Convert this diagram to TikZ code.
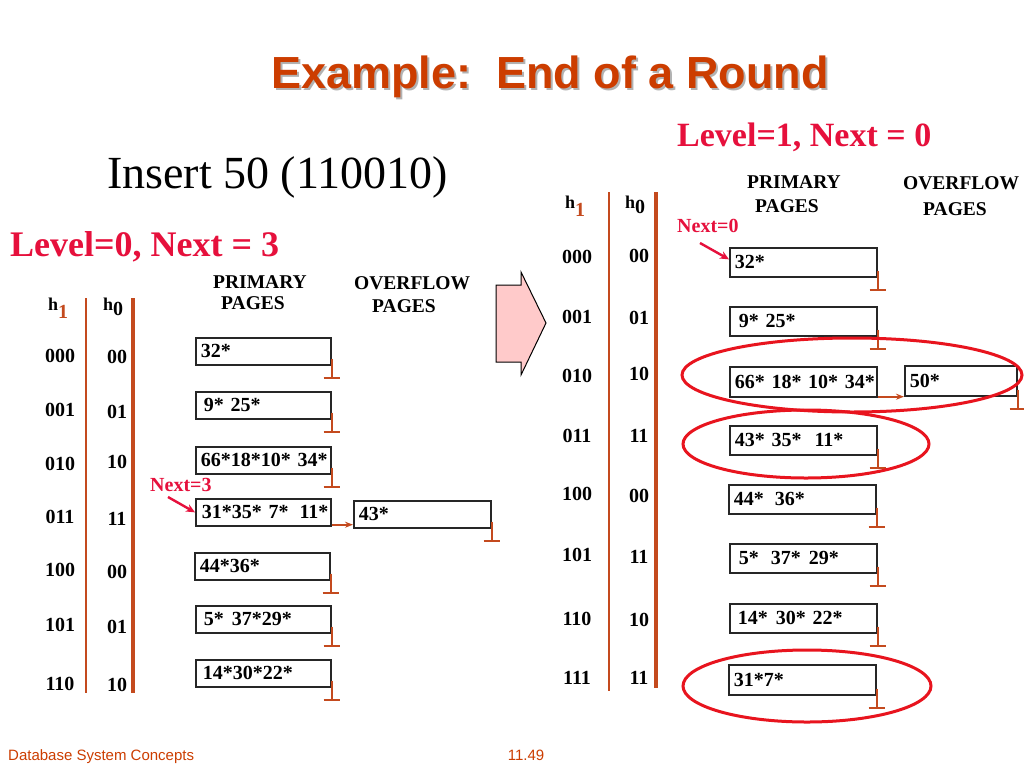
\documentclass[tikz,border=0pt]{standalone}
\usepackage{fontspec}
\setmainfont{Liberation Serif}
\newfontfamily\arialf{Liberation Sans}
\usetikzlibrary{arrows.meta}
\definecolor{titlec}{HTML}{CC3D00}
\definecolor{redc}{HTML}{E6103C}
\definecolor{linec}{HTML}{C44A1E}
\definecolor{ovalc}{HTML}{E8141E}
\definecolor{pinkc}{HTML}{FFCACA}
\newcommand\myfs[1]{\fontsize{#1}{#1}\selectfont}
\begin{document}
\begin{tikzpicture}[x=1pt,y=-1pt,
  box/.style={draw=black!85, line width=1.7pt, rectangle, anchor=north west,
    inner xsep=5pt, inner ysep=0pt, align=left, font=\myfs{20}\bfseries},
  lpg/.style={box, text width=125pt, minimum height=27pt},
  lov/.style={box, text width=127pt, minimum height=27pt},
  rpg/.style={box, text width=137pt, minimum height=29pt},
  rov/.style={box, text width=102pt, minimum height=30pt},
  lbl/.style={anchor=base, inner sep=0pt, font=\myfs{20}\bfseries},
  hdr/.style={anchor=base west, inner sep=0pt, font=\myfs{19.5}\bfseries},
  hlab/.style={anchor=base west, inner sep=0pt, font=\myfs{18}\bfseries},
  nextlab/.style={anchor=base west, inner sep=0pt, font=\myfs{20}\bfseries, text=redc},
  nextarr/.style={draw=redc, line width=2.4pt, -{Stealth[length=9pt,width=8pt]}},
  ovarr/.style={draw=linec, line width=1.6pt, -{Stealth[length=8pt,width=6pt]}},
  nullln/.style={draw=linec, line width=1.8pt},
  hline/.style={draw=linec, line width=1.8pt},
  hlinethick/.style={draw=linec, line width=3.2pt},
  oval/.style={draw=ovalc, line width=3pt}]
\newcommand\nullp[1]{\draw[nullln] ([yshift=7pt]#1.south east) -- ++(0,19) ++(-8,0) -- ++(16,0);}
\useasboundingbox (0,0) rectangle (1024,768);
\fill[white] (0,0) rectangle (1024,768);

% title
\node[anchor=base, inner sep=0pt, font=\arialf\bfseries\myfs{45}, text=black!30] (titlesh) at (552,90) {Example:\ \ End of a Round};
\node[anchor=base, inner sep=0pt, font=\arialf\bfseries\myfs{45}, text=titlec] (title) at (550,88) {Example:\ \ End of a Round};

\node[anchor=base west, inner sep=0pt, font=\myfs{46}] (ins) at (107,188) {Insert 50 (110010)};
\node[anchor=base west, inner sep=0pt, font=\myfs{36}\bfseries, text=redc] (lv0) at (10,256) {Level=0, Next = 3};
\node[anchor=base west, inner sep=0pt, font=\myfs{34}\bfseries, text=redc] (lv1) at (677,146) {Level=1, Next = 0};

% ---------- left ----------
\node[hdr] (lp1) at (213,288) {PRIMARY};
\node[hdr] (lp2) at (221,309) {PAGES};
\node[hdr] (lo1) at (354,289) {OVERFLOW};
\node[hdr] (lo2) at (372,312) {PAGES};

\node[hlab] (lh1) at (48,310) {h\raisebox{-8pt}{\textcolor{linec}{\myfs{20}1}}};
\node[hlab] (lh0) at (103,310) {h\raisebox{-5pt}{\myfs{20}0}};
\draw[hline] (86,298) -- (86,693);
\draw[hlinethick] (133,298) -- (133,693);

\node[lbl] (la0) at (60,362) {000}; \node[lbl] (lb0h) at (117,363) {00};
\node[lbl] (la1) at (60,416) {001}; \node[lbl] (lb1h) at (117,418) {01};
\node[lbl] (la2) at (60,470) {010}; \node[lbl] (lb2h) at (117,468) {10};
\node[lbl] (la3) at (60,523) {011}; \node[lbl] (lb3h) at (117,525) {11};
\node[lbl] (la4) at (60,576) {100}; \node[lbl] (lb4h) at (117,578) {00};
\node[lbl] (la5) at (60,631) {101}; \node[lbl] (lb5h) at (117,633) {01};
\node[lbl] (la6) at (60,690) {110}; \node[lbl] (lb6h) at (117,691) {10};

\node[lpg] (lb0) at (195,337) {\mbox{32*}};
\node[lpg] (lb1) at (195,391) {\mbox{\hspace*{3pt}9* 25*}};
\node[lpg] (lb2) at (195,446) {\mbox{66*18*10* 34*}};
\node[lpg] (lb3) at (195,498) {\mbox{\hspace*{1pt}31*35* 7*\hspace{11pt}11*}};
\node[lpg] (lb4) at (194,552) {\mbox{44*36*}};
\node[lpg] (lb5) at (195,605) {\mbox{\hspace*{3pt}5*\hspace{8pt}37*29*}};
\node[lpg] (lb6) at (195,659) {\mbox{\hspace*{2pt}14*30*22*}};
\node[lov] (lov) at (353,500) {\mbox{43*}};

\foreach \n in {lb0,lb1,lb2,lb4,lb5,lb6,lov} {\nullp{\n}}
\draw[ovarr] ([yshift=2pt]lb3.south east) -- ([yshift=2pt]lb3.south east -| lov.west);

\node[nextlab] (nx3) at (150,491) {Next=3};
\coordinate (nx3s) at (168,497);
\draw[nextarr] (nx3s) -- (lb3.west);

% block arrow
\draw[fill=pinkc, draw=black, line width=1pt] (496,285) -- (521,285) -- (521,272) -- (546,323) -- (521,375) -- (521,362) -- (496,362) -- cycle;

% ---------- right ----------
\node[hdr] (rp1) at (747,188) {PRIMARY};
\node[hdr] (rp2) at (755,212) {PAGES};
\node[hdr] (ro1) at (903,189) {OVERFLOW};
\node[hdr] (ro2) at (923,215) {PAGES};

\node[hlab] (rh1) at (565,208) {h\raisebox{-8pt}{\textcolor{linec}{\myfs{20}1}}};
\node[hlab] (rh0) at (625,208) {h\raisebox{-5pt}{\myfs{20}0}};
\draw[hline] (609,192) -- (609,691);
\draw[hlinethick] (656,192) -- (656,688);

\node[lbl] (ra0) at (577,263) {000}; \node[lbl] (rb0h) at (639,262) {00};
\node[lbl] (ra1) at (577,323) {001}; \node[lbl] (rb1h) at (639,324) {01};
\node[lbl] (ra2) at (577,382) {010}; \node[lbl] (rb2h) at (639,380) {10};
\node[lbl] (ra3) at (577,442) {011}; \node[lbl] (rb3h) at (639,442) {11};
\node[lbl] (ra4) at (577,500) {100}; \node[lbl] (rb4h) at (639,502) {00};
\node[lbl] (ra5) at (577,561) {101}; \node[lbl] (rb5h) at (639,563) {11};
\node[lbl] (ra6) at (577,625) {110}; \node[lbl] (rb6h) at (639,626) {10};
\node[lbl] (ra7) at (577,684) {111}; \node[lbl] (rb7h) at (639,684) {11};

\node[rpg] (rb0) at (729,247) {\mbox{32*}};
\node[rpg] (rb1) at (729,306) {\mbox{\hspace*{4pt}9* 25*}};
\node[rpg, minimum height=30pt] (rb2) at (729,366) {\mbox{66* 18* 10* 34*}};
\node[rpg] (rb3) at (729,425) {\mbox{43* 35*\hspace{13pt}11*}};
\node[rpg] (rb4) at (728,484) {\mbox{44*\hspace{11pt}36*}};
\node[rpg] (rb5) at (729,543) {\mbox{\hspace*{4pt}5*\hspace{12pt}37*\hspace{8pt}29*}};
\node[rpg] (rb6) at (729,603) {\mbox{\hspace*{3pt}14*\hspace{8pt}30* 22*}};
\node[rpg, minimum height=30pt] (rb7) at (728,664) {\mbox{31*7*}};
\node[rov] (rov) at (904,365) {\mbox{50*}};

\foreach \n in {rb0,rb1,rb3,rb4,rb5,rb6,rb7,rov} {\nullp{\n}}
\draw[ovarr] ([yshift=1pt]rb2.south east) -- ([yshift=1pt]rb2.south east -| rov.west);

\node[nextlab] (nx0) at (677,232) {Next=0};
\coordinate (nx0s) at (700,243);
\draw[nextarr] (nx0s) -- ([yshift=3pt]rb0.west);

% ovals
\draw[oval] (852,375) ellipse [x radius=170pt, y radius=37pt];
\draw[oval] (806,444) ellipse [x radius=123pt, y radius=34pt];
\draw[oval] (807,686) ellipse [x radius=124pt, y radius=36pt];

% footer
\node[anchor=base west, inner sep=0pt, font=\arialf\myfs{15}, text=titlec] (foot) at (8,760) {Database System Concepts};
\node[anchor=base, inner sep=0pt, font=\arialf\myfs{15}, text=titlec] (pnum) at (526,760) {11.49};
\end{tikzpicture}
\end{document}
